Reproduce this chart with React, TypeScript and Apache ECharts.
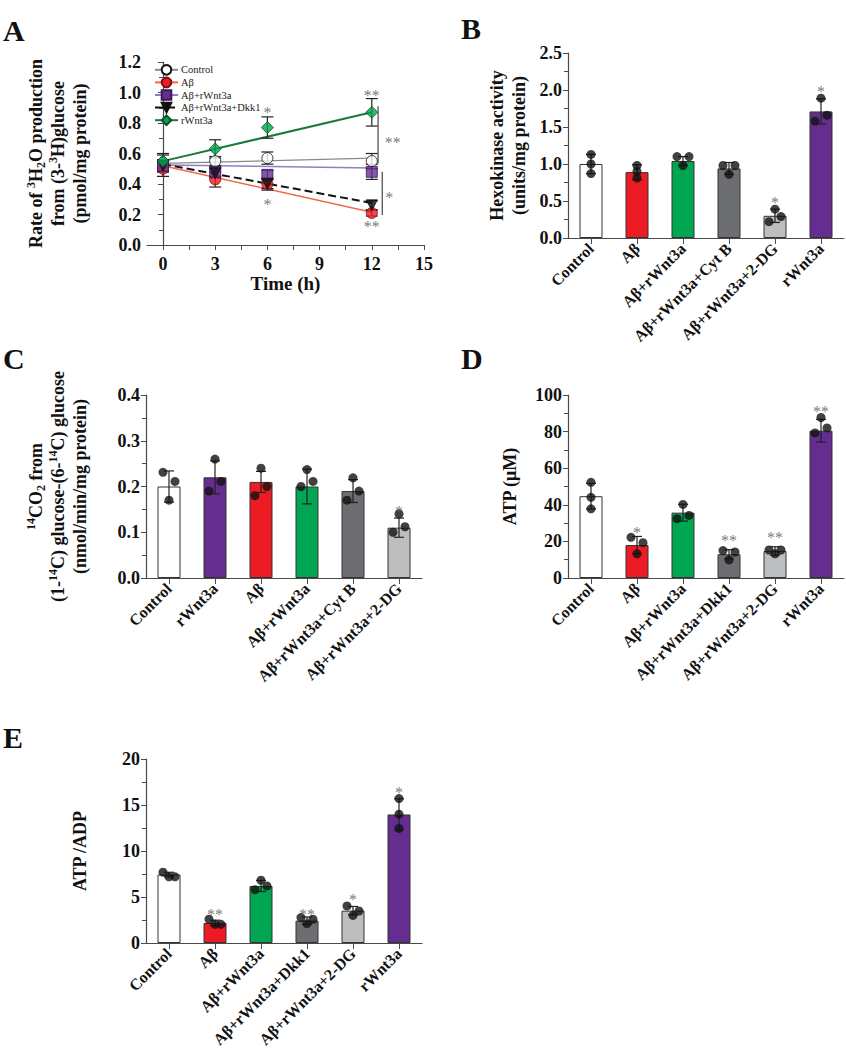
import React, { useEffect, useRef } from "react";
import * as echarts from "echarts";

const FONT = '"Liberation Serif", "Times New Roman", serif';

// ---------- Panel A data ----------
const timePoints = [0, 3, 6, 12];
const aGroups = ["Control", "Aβ", "Aβ+rWnt3a", "Aβ+rWnt3a+Dkk1", "rWnt3a"];
const aControl = [0.54, 0.55, 0.57, 0.55];
const aControlErr = [0.06, 0.03, 0.04, 0.05];
const aAbeta = [0.5, 0.43, 0.4, 0.21];
const aAbetaErr = [0.05, 0.05, 0.04, 0.02];
const aAbWnt = [0.52, 0.48, 0.46, 0.48];
const aAbWntErr = [0.04, 0.03, 0.03, 0.05];
const aAbWntDkk = [0.52, 0.47, 0.4, 0.26];
const aAbWntDkkErr = [0.04, 0.03, 0.03, 0.03];
const aWnt = [0.55, 0.63, 0.77, 0.87];
const aWntErr = [0.04, 0.06, 0.07, 0.09];
const fitX = [0, 12];
const aFitStart = [0.535, 0.52, 0.525, 0.53, 0.55];
const aFitEnd = [0.57, 0.215, 0.505, 0.275, 0.87];
const aStars = [[6, 0.895], [12, 1.005], [6, 0.295], [12, 0.146], [13.2, 0.7], [13.0, 0.34]];
const aStarText = ["*", "**", "*", "**", "**", "*"];
const aBrackets = [[12.36, 0.91, 0.535], [12.6, 0.48, 0.197]];
const aXTicks = [0, 1.5, 3, 4.5, 6, 7.5, 9, 10.5, 12, 13.5, 15];
const aXLabels = [0, 3, 6, 9, 12, 15];

// ---------- Panel B data ----------
const bCats = ["Control", "Aβ", "Aβ+rWnt3a", "Aβ+rWnt3a+Cyt B", "Aβ+rWnt3a+2-DG", "rWnt3a"];
const bMeans = [1.0, 0.89, 1.04, 0.94, 0.3, 1.71];
const bSd = [0.13, 0.1, 0.06, 0.08, 0.09, 0.17];
const bPoints = [[1.13, 1.0, 0.87], [0.98, 0.9, 0.81], [1.1, 1.1, 0.98], [0.98, 0.98, 0.86], [0.39, 0.29, 0.22], [1.89, 1.66, 1.58]];
const bJitter = [[0, 0, 0], [0, 0, 0], [-1, 1, 0], [-1, 1, 0], [0, 1, -1], [0, 1, -1]];
const bStars = [[4, 0.53], [5, 2.03]];
const bStarText = ["*", "*"];

// ---------- Panel C data ----------
const cCats = ["Control", "rWnt3a", "Aβ", "Aβ+rWnt3a", "Aβ+rWnt3a+Cyt B", "Aβ+rWnt3a+2-DG"];
const cMeans = [0.2, 0.22, 0.21, 0.2, 0.19, 0.11];
const cSd = [0.034, 0.036, 0.023, 0.038, 0.025, 0.021];
const cPoints = [[0.231, 0.211, 0.17], [0.26, 0.211, 0.19], [0.24, 0.2, 0.18], [0.237, 0.211, 0.2], [0.219, 0.19, 0.17], [0.14, 0.112, 0.1]];
const cJitter = [[-1, 1, 0], [0, 1, -1], [0, 1, -1], [0, 1, -1], [0, 1, -1], [0, 1, -1]];
const cStars = [[5, 0.155]];
const cStarText = ["*"];

// ---------- Panel D data ----------
const dCats = ["Control", "Aβ", "Aβ+rWnt3a", "Aβ+rWnt3a+Dkk1", "Aβ+rWnt3a+2-DG", "rWnt3a"];
const dMeans = [44.7, 18.0, 35.7, 13.0, 14.8, 80.5];
const dSd = [7, 4.7, 4.6, 2.5, 2.3, 6.2];
const dPoints = [[52.3, 44.1, 37.8], [22.2, 19.3, 13.2], [40.2, 34.2, 32.4], [15.0, 14.2, 9.9], [15.3, 15.3, 13.2], [87.7, 82.0, 79.3]];
const dJitter = [[0, 0, 0], [-1, 1, 0], [0, 1, -1], [-1, 1, 0], [-1, 1, 0], [0, 1, -1]];
const dStars = [[1, 27], [3, 22.5], [4, 24.3], [5, 93]];
const dStarText = ["*", "**", "**", "**"];

// ---------- Panel E data ----------
const eCats = ["Control", "Aβ", "Aβ+rWnt3a", "Aβ+rWnt3a+Dkk1", "Aβ+rWnt3a+2-DG", "rWnt3a"];
const eMeans = [7.44, 2.18, 6.2, 2.43, 3.52, 13.97];
const eSd = [0.25, 0.3, 0.6, 0.4, 0.45, 1.7];
const ePoints = [[7.7, 7.19, 7.19], [2.58, 2.03, 2.03], [6.82, 6.2, 5.8], [2.76, 2.58, 2.1], [4.03, 3.48, 3.0], [15.7, 14.0, 12.45]];
const eJitter = [[-1, 0, 1], [-1, 0, 1], [0, 1, -1], [-1, 1, 0], [-1, 1, 0], [0, 0, 0]];
const eStars = [[1, 3.56], [3, 3.56], [4, 5.2], [5, 16.8]];
const eStarText = ["**", "**", "*", "*"];

// ---------- styles ----------
const barColor: Record<string, string> = {
  "Control": "#ffffff",
  "Aβ": "#ed1c24",
  "Aβ+rWnt3a": "#00a651",
  "Aβ+rWnt3a+Cyt B": "#6d6e71",
  "Aβ+rWnt3a+Dkk1": "#6d6e71",
  "Aβ+rWnt3a+2-DG": "#bcbec0",
  "rWnt3a": "#662d91",
};
const AXIS = "#4a4a4a";
const STAR = "#555555";

const errRender = (capW: number) => (params: any, api: any) => {
  const x = api.value(0);
  const lo = api.value(1);
  const hi = api.value(2);
  const pt = api.coord([x, hi]);
  const pb = api.coord([x, lo]);
  const style = { stroke: "#222", lineWidth: 1.2, fill: "none" };
  return {
    type: "group",
    children: [
      { type: "line", shape: { x1: pt[0], y1: pt[1], x2: pb[0], y2: pb[1] }, style },
      { type: "line", shape: { x1: pt[0] - capW / 2, y1: pt[1], x2: pt[0] + capW / 2, y2: pt[1] }, style },
      { type: "line", shape: { x1: pb[0] - capW / 2, y1: pb[1], x2: pb[0] + capW / 2, y2: pb[1] }, style },
    ],
  };
};

const starSeries = (xi: number, stars: number[][], texts: string[]) => ({
  type: "scatter",
  xAxisIndex: xi,
  yAxisIndex: xi,
  symbolSize: 1,
  itemStyle: { color: "rgba(0,0,0,0)" },
  data: stars,
  label: {
    show: true,
    position: "inside",
    offset: [0, 4],
    formatter: (p: any) => texts[p.dataIndex],
    color: STAR,
    fontFamily: FONT,
    fontSize: 16,
    fontWeight: "normal",
  },
  z: 6,
  silent: true,
});

const valueAxisBase = {
  type: "value",
  splitLine: { show: false },
  axisLine: { show: true, lineStyle: { color: AXIS, width: 1.2 } },
  axisTick: { show: true, length: 5, lineStyle: { color: AXIS } },
  minorTick: { show: true, splitNumber: 2, length: 4, lineStyle: { color: AXIS } },
  axisLabel: { fontFamily: FONT, fontWeight: "bold", fontSize: 18, color: "#111", margin: 6 },
  nameLocation: "middle",
  nameRotate: 90,
  nameTextStyle: {
    fontFamily: FONT,
    fontWeight: "bold",
    fontSize: 18,
    color: "#111",
    lineHeight: 22,
    align: "center",
    rich: {
      sup: { fontFamily: FONT, fontWeight: "bold", fontSize: 12, lineHeight: 14, verticalAlign: "top", color: "#111" },
      sub: { fontFamily: FONT, fontWeight: "bold", fontSize: 12, lineHeight: 14, verticalAlign: "bottom", color: "#111" },
    },
  },
};

const catAxis = (cats: string[], gridIndex: number) => ({
  type: "category",
  gridIndex,
  data: cats,
  axisLine: { show: true, lineStyle: { color: AXIS, width: 1.2 } },
  axisTick: { show: true, alignWithLabel: true, length: 6, lineStyle: { color: AXIS } },
  axisLabel: { interval: 0, rotate: 45, fontFamily: FONT, fontWeight: "bold", fontSize: 16, color: "#111", margin: 8 },
  splitLine: { show: false },
});

function barPanelSeries(
  gi: number,
  cats: string[],
  means: number[],
  sd: number[],
  points: number[][],
  jitter: number[][],
  stars: number[][],
  starText: string[]
) {
  return [
    {
      type: "bar",
      xAxisIndex: gi,
      yAxisIndex: gi,
      barWidth: 23,
      data: means.map((v, j) => ({ value: v, itemStyle: { color: barColor[cats[j]] } })),
      itemStyle: { borderColor: "#333", borderWidth: 1 },
      z: 2,
    },
    {
      type: "custom",
      xAxisIndex: gi,
      yAxisIndex: gi,
      renderItem: errRender(10),
      itemStyle: { color: "#222" },
      data: means.map((m, j) => [j, m - sd[j], m + sd[j]]),
      z: 3,
    },
    {
      type: "scatter",
      xAxisIndex: gi,
      yAxisIndex: gi,
      symbolSize: 9,
      itemStyle: { color: "#111" },
      data: points.flatMap((arr, j) =>
        arr.map((v, k) => ({ value: [j, v], symbolOffset: [jitter[j][k] * 6, 0] }))
      ),
      z: 4,
    },
    starSeries(gi, stars, starText),
  ];
}

const aSeriesData = [aControl, aAbeta, aAbWnt, aAbWntDkk, aWnt];
const aSeriesErr = [aControlErr, aAbetaErr, aAbWntErr, aAbWntDkkErr, aWntErr];
const aSymbols = ["circle", "circle", "rect", "triangle", "diamond"];
const aSymbolRot = [0, 0, 0, 180, 0];
const aSymbolSize = [11, 11, 11, 11, 12];
const aFill = ["#ffffff", "#ed1c24", "#662d91", "#111111", "#00a651"];
const aBorder = ["#111", "#7a1010", "#3a1a55", "#111", "#0d4d22"];
const aLine = ["#8a8a8a", "#f26849", "#8f7fc4", "#111111", "#1b7a3a"];
const aLineW = [1.3, 1.5, 1.5, 2, 2];
const aLineType = ["solid", "solid", "solid", "dashed", "solid"];

export default function App() {
  const ref = useRef<HTMLDivElement>(null);
  useEffect(() => {
    if (!ref.current) return;
    const chart = echarts.init(ref.current, undefined, { renderer: "svg" });

    const aSeries: any[] = [];
    aGroups.forEach((g, i) => {
      aSeries.push({
        type: "line",
        name: g,
        xAxisIndex: 0,
        yAxisIndex: 0,
        data: [
          [fitX[0], aFitStart[i]],
          [fitX[1], aFitEnd[i]],
        ],
        symbol: aSymbols[i],
        symbolRotate: aSymbolRot[i],
        showSymbol: false,
        lineStyle: { color: aLine[i], width: aLineW[i], type: aLineType[i] },
        itemStyle: { color: aFill[i], borderColor: aBorder[i], borderWidth: 1 },
        z: 2,
      });
    });
    aGroups.forEach((g, i) => {
      aSeries.push({
        type: "custom",
        name: g + " err",
        xAxisIndex: 0,
        yAxisIndex: 0,
        renderItem: errRender(12),
        itemStyle: { color: "#222" },
        data: timePoints.map((t, k) => [t, aSeriesData[i][k] - aSeriesErr[i][k], aSeriesData[i][k] + aSeriesErr[i][k]]),
        z: 3,
      });
    });
    aGroups.forEach((g, i) => {
      aSeries.push({
        type: "scatter",
        name: g + " points",
        xAxisIndex: 0,
        yAxisIndex: 0,
        symbol: aSymbols[i],
        symbolRotate: aSymbolRot[i],
        symbolSize: aSymbolSize[i],
        itemStyle: { color: aFill[i], borderColor: aBorder[i], borderWidth: 1 },
        data: timePoints.map((t, k) => [t, aSeriesData[i][k]]),
        z: 4 + i * 0.1,
      });
    });
    aSeries.push({
      type: "custom",
      xAxisIndex: 0,
      yAxisIndex: 0,
      itemStyle: { color: "#444" },
      renderItem: (params: any, api: any) => {
        const p1 = api.coord([api.value(0), api.value(1)]);
        const p2 = api.coord([api.value(0), api.value(2)]);
        return {
          type: "line",
          shape: { x1: p1[0], y1: p1[1], x2: p2[0], y2: p2[1] },
          style: { stroke: "#444", lineWidth: 1.2, fill: "none" },
        };
      },
      data: aBrackets,
      z: 3,
    });
    aSeries.push(starSeries(0, aStars, aStarText));

    const letter = (t: string, x: number, y: number) => ({
      type: "text",
      x,
      y,
      style: { text: t, fontFamily: FONT, fontWeight: "bold", fontSize: 30, fill: "#111", verticalAlign: "middle", align: "left" },
    });

    const option: any = {
      animation: false,
      backgroundColor: "#ffffff",
      textStyle: { fontFamily: FONT },
      grid: [
        { left: 147, top: 62, width: 277, height: 183, outerBoundsMode: "none" },
        { left: 568, top: 53, width: 276, height: 185, outerBoundsMode: "none" },
        { left: 146, top: 395, width: 276, height: 183, outerBoundsMode: "none" },
        { left: 568, top: 395, width: 276, height: 183, outerBoundsMode: "none" },
        { left: 146, top: 759, width: 276, height: 184, outerBoundsMode: "none" },
      ],
      legend: {
        orient: "vertical",
        left: 149,
        top: 59,
        itemWidth: 23,
        itemHeight: 12,
        itemGap: 1,
        selectedMode: false,
        data: aGroups,
        textStyle: { fontFamily: FONT, fontSize: 10.5, color: "#222", padding: [0, 0, 0, -2] },
      },
      xAxis: [
        {
          type: "value",
          gridIndex: 0,
          min: -0.92,
          max: 15,
          splitLine: { show: false },
          axisLine: { show: true, onZero: false, lineStyle: { color: AXIS, width: 1.2 } },
          axisTick: { show: true, length: 5, customValues: aXTicks, lineStyle: { color: AXIS } },
          axisLabel: { customValues: aXLabels, fontFamily: FONT, fontWeight: "bold", fontSize: 18, color: "#111", margin: 10 },
          name: "Time (h)",
          nameLocation: "middle",
          nameGap: 29,
          nameTextStyle: { fontFamily: FONT, fontWeight: "bold", fontSize: 19, color: "#111" },
        },
        catAxis(bCats, 1),
        catAxis(cCats, 2),
        catAxis(dCats, 3),
        catAxis(eCats, 4),
      ],
      yAxis: [
        {
          ...valueAxisBase,
          gridIndex: 0,
          min: 0,
          max: 1.2,
          interval: 0.2,
          axisLabel: { ...valueAxisBase.axisLabel, formatter: (v: number) => v.toFixed(1) },
          name: "Rate of {sup|3}H{sub|2}O production\nfrom (3-{sup|3}H)glucose\n(pmol/mg protein)",
          nameGap: 56,
        },
        {
          ...valueAxisBase,
          gridIndex: 1,
          min: 0,
          max: 2.5,
          interval: 0.5,
          axisLabel: { ...valueAxisBase.axisLabel, formatter: (v: number) => v.toFixed(1) },
          name: "Hexokinase activity\n(units/mg protein)",
          nameGap: 38,
        },
        {
          ...valueAxisBase,
          gridIndex: 2,
          min: 0,
          max: 0.4,
          interval: 0.1,
          axisLabel: { ...valueAxisBase.axisLabel, formatter: (v: number) => v.toFixed(1) },
          name: "{sup|14}CO{sub|2} from\n(1-{sup|14}C) glucose-(6-{sup|14}C) glucose\n(nmol/min/mg protein)",
          nameGap: 55,
        },
        {
          ...valueAxisBase,
          gridIndex: 3,
          min: 0,
          max: 100,
          interval: 20,
          name: "ATP (μM)",
          nameGap: 47,
        },
        {
          ...valueAxisBase,
          gridIndex: 4,
          min: 0,
          max: 20,
          interval: 5,
          name: "ATP /ADP",
          nameGap: 55,
        },
      ],
      graphic: [
        letter("A", 3, 30),
        letter("B", 461, 28),
        letter("C", 3, 358),
        letter("D", 461, 358),
        letter("E", 3, 737),
      ],
      series: [
        ...aSeries,
        ...barPanelSeries(1, bCats, bMeans, bSd, bPoints, bJitter, bStars, bStarText),
        ...barPanelSeries(2, cCats, cMeans, cSd, cPoints, cJitter, cStars, cStarText),
        ...barPanelSeries(3, dCats, dMeans, dSd, dPoints, dJitter, dStars, dStarText),
        ...barPanelSeries(4, eCats, eMeans, eSd, ePoints, eJitter, eStars, eStarText),
      ],
    };
    chart.setOption(option);
    return () => chart.dispose();
  }, []);
  return (
    <div
      ref={ref}
      style={{ position: "absolute", left: 0, top: 0, width: 846, height: 1050, background: "#fff" }}
    />
  );
}
